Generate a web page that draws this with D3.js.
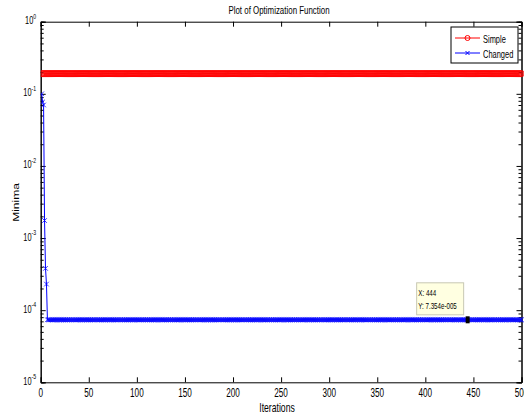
<!DOCTYPE html>
<html>
<head>
<meta charset="utf-8">
<script src="https://cdn.jsdelivr.net/npm/d3@7"></script>
<style>
  body { margin: 0; background: #fff; }
  text { font-family: "Liberation Sans", Arial, sans-serif; fill: #000; }
</style>
</head>
<body>
<div id="container"></div>
<script>
//DATA
const iterationCount = 500
const simpleValue = 0.1905 //flat minima of Simple
const changedStart = [0.1, 0.077, 0.07, 0.00175, 0.00038, 0.00023] //first iterations of Changed
const changedPlateau = 7.354e-5 //Changed after it settles
const xTicks = [0, 50, 100, 150, 200, 250, 300, 350, 400, 450, 500]
const yDecades = [0, -1, -2, -3, -4, -5]
const seriesNames = ['Simple', 'Changed']
const tipPoint = [444, 7.354e-5]

const iterations = d3.range(1, iterationCount + 1)
const simple = iterations.map(i => [i, simpleValue])
const changed = iterations.map(i => [i, i <= changedStart.length ? changedStart[i - 1] : changedPlateau])

//BOX
const w = 524
const h = 415
const mLeft = 40.7, mRight = 521.5, mTop = 21.7, mBottom = 382.3

const xscale = d3.scaleLinear().domain([0, 500]).range([mLeft, mRight])
const yscale = d3.scaleLog().domain([1e-5, 1]).range([mBottom, mTop])

const svg = d3.select('#container')
    .append('svg')
    .attr('width', w)
    .attr('height', h)

//text in the picture is squeezed sideways, so scale x
function label(x, y, str, size, anchor, sx, rot) {
    const g = svg.append('g')
        .attr('transform', 'translate(' + x + ',' + y + ') scale(' + sx + ',1)' + (rot ? ' rotate(' + rot + ')' : ''))
    return g.append('text')
        .attr('font-size', size)
        .attr('text-anchor', anchor)
        .text(str)
}

//MINOR Y TICKS
const minor = []
yDecades.slice(1).forEach(d => {
    for (let k = 2; k <= 9; k++) minor.push(k * Math.pow(10, d))
})

//AXES
const xBottom = d3.axisBottom(xscale).tickValues(xTicks).tickSize(-5).tickFormat('')
const xTop = d3.axisTop(xscale).tickValues(xTicks).tickSize(-5).tickFormat('')
const yLeft = d3.axisLeft(yscale).tickValues(yDecades.map(d => Math.pow(10, d))).tickSize(-5).tickFormat('')
const yRight = d3.axisRight(yscale).tickValues(yDecades.map(d => Math.pow(10, d))).tickSize(-5).tickFormat('')
const yLeftMinor = d3.axisLeft(yscale).tickValues(minor).tickSize(-3).tickFormat('')
const yRightMinor = d3.axisRight(yscale).tickValues(minor).tickSize(-3).tickFormat('')

svg.append('g').attr('transform', 'translate(0,' + mBottom + ')').call(xBottom)
svg.append('g').attr('transform', 'translate(0,' + mTop + ')').call(xTop)
svg.append('g').attr('transform', 'translate(' + mLeft + ',0)').call(yLeft)
svg.append('g').attr('transform', 'translate(' + mRight + ',0)').call(yRight)
svg.append('g').attr('transform', 'translate(' + mLeft + ',0)').call(yLeftMinor)
svg.append('g').attr('transform', 'translate(' + mRight + ',0)').call(yRightMinor)
svg.selectAll('.domain').attr('stroke', '#000').attr('stroke-width', 1)
svg.selectAll('.tick line').attr('stroke', '#000')

//TICK LABELS
xTicks.forEach(t => label(xscale(t), mBottom + 14.3, t, 12, 'middle', 0.68))
yDecades.forEach(d => {
    const tx = label(mLeft - 4.5, yscale(Math.pow(10, d)) + 2.5, '', 10, 'end', 0.74)
    tx.append('tspan').text('10')
    tx.append('tspan').attr('dy', -5.5).attr('font-size', 7).text(d)
})

//TITLES
label(279, 14, 'Plot of Optimization Function', 11, 'middle', 0.72)
label(277, 411.5, 'Iterations', 12, 'middle', 0.72)
label(19.3, 202.5, 'Minima', 12, 'middle', 0.72, -90)

//LINES
const line = d3.line().x(d => xscale(d[0])).y(d => yscale(d[1]))
svg.append('clipPath').attr('id', 'area').append('rect')
    .attr('x', mLeft).attr('y', mTop).attr('width', mRight - mLeft + 4).attr('height', mBottom - mTop)

const plot = svg.append('g').attr('clip-path', 'url(#area)')

plot.append('path').datum(changed).attr('d', line)
    .attr('fill', 'none').attr('stroke', '#0000ff').attr('stroke-width', 1)
plot.append('path').datum(simple).attr('d', line)
    .attr('fill', 'none').attr('stroke', '#ff0000').attr('stroke-width', 1)

//MARKERS
plot.append('g').selectAll('circle')
    .data(simple)
    .enter()
    .append('circle')
    .attr('cx', d => xscale(d[0]))
    .attr('cy', d => yscale(d[1]))
    .attr('r', 3)
    .attr('fill', 'none')
    .attr('stroke', '#ff0000')
    .attr('stroke-width', 0.8)

plot.append('g').selectAll('path')
    .data(changed)
    .enter()
    .append('path')
    .attr('d', d => {
        const x = xscale(d[0]), y = yscale(d[1]), s = 2.3
        return 'M' + (x - s) + ',' + (y - s) + 'L' + (x + s) + ',' + (y + s) + 'M' + (x - s) + ',' + (y + s) + 'L' + (x + s) + ',' + (y - s)
    })
    .attr('stroke', '#0000ff')
    .attr('stroke-width', 0.8)

//DATA TIP
const tx = xscale(tipPoint[0]), ty = yscale(tipPoint[1])
svg.append('rect')
    .attr('x', tx - 51).attr('y', ty - 37)
    .attr('width', 47).attr('height', 32)
    .attr('fill', '#ffffe1').attr('stroke', '#c8c8b4').attr('stroke-width', 1)
label(tx - 49.3, ty - 23.7, 'X: 444', 9.5, 'start', 0.65)
label(tx - 49.3, ty - 11.2, 'Y: 7.354e-005', 9.5, 'start', 0.65)
svg.append('rect')
    .attr('x', tx - 2).attr('y', ty - 3.5)
    .attr('width', 4).attr('height', 7)
    .attr('fill', '#000')

//LEGEND
const legend = svg.append('g')
legend.append('rect')
    .attr('x', 451).attr('y', 27)
    .attr('width', 67).attr('height', 36)
    .attr('fill', '#fff').attr('stroke', '#000')
seriesNames.forEach((name, i) => {
    const ly = 38 + i * 15
    const col = i === 0 ? '#ff0000' : '#0000ff'
    legend.append('line')
        .attr('x1', 455).attr('x2', 480).attr('y1', ly).attr('y2', ly)
        .attr('stroke', col)
    if (i === 0) {
        legend.append('circle').attr('cx', 467.5).attr('cy', ly).attr('r', 2.5)
            .attr('fill', 'none').attr('stroke', col)
    } else {
        legend.append('path')
            .attr('d', 'M465.5,' + (ly - 2) + 'L469.5,' + (ly + 2) + 'M465.5,' + (ly + 2) + 'L469.5,' + (ly - 2))
            .attr('stroke', col)
    }
    label(483, ly + 4.5, name, 11, 'start', 0.68)
})
</script>
</body>
</html>
